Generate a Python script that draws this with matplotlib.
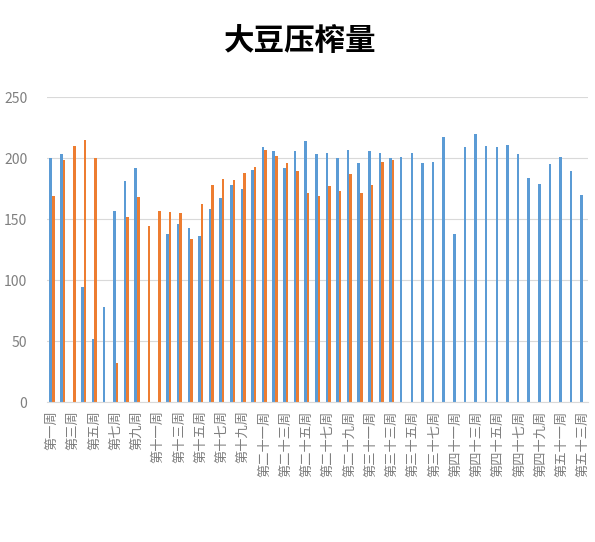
import numpy as np
import matplotlib
matplotlib.use("Agg")
import matplotlib.pyplot as plt

plt.rcParams['font.family'] = ['Noto Sans CJK SC', 'DejaVu Sans']

# week labels (weeks 39-40 absent)
weeks = ['第一周', '第二周', '第三周', '第四周', '第五周', '第六周', '第七周', '第八周',
         '第九周', '第十周', '第十一周', '第十二周', '第十三周', '第十四周', '第十五周',
         '第十六周', '第十七周', '第十八周', '第十九周', '第二十周', '第二十一周',
         '第二十二周', '第二十三周', '第二十四周', '第二十五周', '第二十六周', '第二十七周',
         '第二十八周', '第二十九周', '第三十周', '第三十一周', '第三十二周', '第三十三周',
         '第三十四周', '第三十五周', '第三十六周', '第三十七周', '第三十八周',
         '第四十一周', '第四十二周', '第四十三周', '第四十四周', '第四十五周', '第四十六周',
         '第四十七周', '第四十八周', '第四十九周', '第五十周', '第五十一周', '第五十二周',
         '第五十三周']

nan = np.nan
blue_vals = [200, 203, nan, 94, 52, 78, 157, 181, 192, nan, nan, 138, 146, 143, 136,
             158, 167, 178, 175, 190, 209, 206, 192, 206, 214, 203, 204, 200, 207, 196,
             206, 204, 200, 201, 204, 196, 197, 217, 138, 209, 220, 210, 209, 211, 203,
             184, 179, 195, 201, 189, 170]
orange_vals = [169, 198, 210, 215, 200, nan, 32, 152, 168, 144, 157, 156, 155, 134, 162,
               178, 183, 182, 188, 193, 207, 202, 196, 189, 171, 169, 177, 173, 187, 171,
               178, 197, 198]
orange_vals = orange_vals + [nan] * (len(weeks) - len(orange_vals))

yticks = [0, 50, 100, 150, 200, 250]

fig = plt.figure(figsize=(5.95, 5.42), dpi=100)
ax = fig.add_axes([0.0785, 0.258, 0.9103, 0.563])

x = np.arange(len(weeks))
w = 0.24
ax.bar(x - w / 2, blue_vals, width=w, color='#5B9BD5', zorder=3)
ax.bar(x + w / 2, orange_vals, width=w, color='#ED7D31', zorder=3)

ax.set_xlim(-0.5, len(weeks) - 0.5)
ax.set_ylim(0, 250)
ax.set_yticks(yticks)
ax.set_yticklabels([str(v) for v in yticks], fontsize=10, color='#7f7f7f')
ax.grid(axis='y', color='#d9d9d9', linewidth=0.8, zorder=0)
ax.tick_params(axis='y', length=0, pad=14)

# every other week is labelled
ax.set_xticks(x[::2])
ax.set_xticklabels(weeks[::2], rotation=90, fontsize=9.5, color='#7f7f7f',
                   va='top', ha='center')
ax.tick_params(axis='x', length=0, pad=6)

for s in ['top', 'right', 'left']:
    ax.spines[s].set_visible(False)
ax.spines['bottom'].set_color('#d9d9d9')
ax.spines['bottom'].set_zorder(4)

fig.text(0.505, 0.925, '大豆压榨量', ha='center', va='center', fontsize=22,
         fontweight='bold', color='#000000')

fig.savefig('out.png', dpi=100)
